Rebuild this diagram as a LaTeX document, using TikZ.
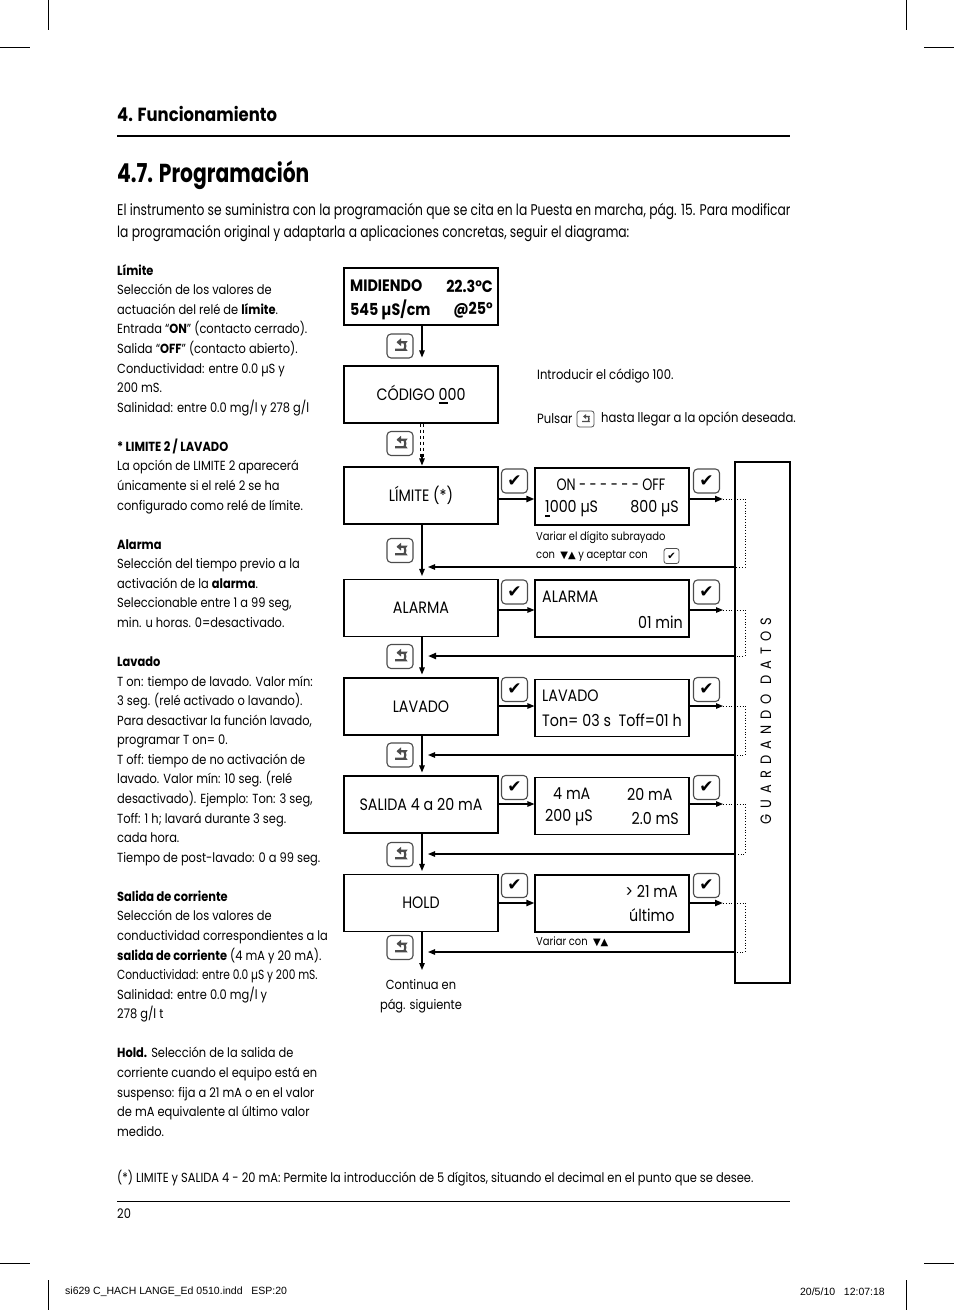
\documentclass[tikz,border=0pt]{standalone}
\usepackage{fontspec}
\setmainfont{Poppins}[FakeStretch=0.866]
\newfontfamily\symf{DejaVu Sans}
\newfontfamily\footf{Liberation Sans}
\usetikzlibrary{arrows.meta,calc}
\newcommand\bodyf{\fontsize{13.2}{19.57}\selectfont}
\newcommand\notef{\fontsize{13.4}{19.57}\selectfont}
\newcommand\boxf{\fontsize{16.5}{20}\selectfont}
\newcommand\smallf{\fontsize{11.5}{14}\selectfont}
\newcommand\udig[1]{\setbox0\hbox{#1}\rlap{\rule[-4pt]{\wd0}{2.2pt}}#1}
\tikzset{
  box/.style={draw, line width=1.1pt, minimum width=154pt, minimum height=57pt, inner sep=0pt, font=\boxf},
  txt/.style={inner sep=0pt, font=\boxf},
  keyret/.style={draw=black!70, line width=1.1pt, rounded corners=4pt, minimum width=26pt, minimum height=24pt, inner sep=0pt,
    path picture={\draw[line width=2.2pt,-{Triangle[length=4.5pt,width=7.5pt]}]
      ($(path picture bounding box.center)+(-5pt,-3.8pt)$) -- ++(6.5pt,0pt) arc[start angle=-90,end angle=90,radius=3.8pt] -- ++(-5pt,0pt);}},
  keyrets/.style={draw=black!70, line width=0.8pt, rounded corners=2.5pt, minimum width=17pt, minimum height=16pt, inner sep=0pt,
    path picture={\draw[line width=1.4pt,-{Triangle[length=3pt,width=4.8pt]}]
      ($(path picture bounding box.center)+(-3.4pt,-2.5pt)$) -- ++(4.4pt,0pt) arc[start angle=-90,end angle=90,radius=2.5pt] -- ++(-3.4pt,0pt);}},
  keychk/.style={draw=black!70, line width=1.1pt, rounded corners=4pt, minimum width=26pt, minimum height=24pt, inner sep=0pt, font=\symf\fontsize{17}{17}\selectfont},
  keychks/.style={draw=black!70, line width=0.8pt, rounded corners=2.5pt, minimum width=15pt, minimum height=15pt, inner sep=0pt, font=\symf\fontsize{10}{10}\selectfont},
  flow/.style={line width=1.1pt, -{Triangle[length=7pt,width=5.5pt]}},
  flowb/.style={line width=2pt, -{Triangle[length=8pt,width=6pt]}},
  dots/.style={line width=0.8pt, dotted},
}
\begin{document}
\begin{tikzpicture}[x=1pt,y=1pt]
\useasboundingbox (0,0) rectangle (954,-1310);
% crop marks
\draw[line width=0.8pt] (48,0) -- (48,-30) (906,0) -- (906,-30) (0,-47) -- (30,-47) (924,-47) -- (954,-47);
\draw[line width=0.8pt] (48,-1280) -- (48,-1310) (906,-1280) -- (906,-1310) (0,-1263) -- (30,-1263) (924,-1263) -- (954,-1263);
% header
\node[anchor=west, inner sep=0pt, font=\fontsize{19}{22}\selectfont\bfseries] (hdr) at (117,-114) {4. Funcionamiento};
\draw[line width=1.2pt] (117,-136) -- (790,-136);
\node[anchor=west, inner sep=0pt, font=\fontsize{26}{30}\selectfont\bfseries] (ttl) at (117,-175) {\scalebox{0.9}[1]{4.7. Programación}};
\node[anchor=west, inner sep=0pt, font=\fontsize{15.5}{22}\selectfont] (intro1) at (117,-211) {\scalebox{0.915}[1]{El instrumento se suministra con la programación que se cita en la Puesta en marcha, pág. 15. Para modificar}};
\node[anchor=west, inner sep=0pt, font=\fontsize{15.5}{22}\selectfont] (intro2) at (117,-233) {\scalebox{0.915}[1]{la programación original y adaptarla a aplicaciones concretas, seguir el diagrama:}};
% left description
\node[anchor=north west, inner sep=0pt, align=left, font=\bodyf] (desc) at (117,-264) {%
\textbf{Límite}\\
Selección de los valores de\\
actuación del relé de \textbf{límite}.\\
Entrada “\textbf{ON}” (contacto cerrado).\\
Salida “\textbf{OFF}” (contacto abierto).\\
Conductividad: entre 0.0 µS y\\
200 mS.\\
Salinidad: entre 0.0 mg/l y 278 g/l\\[19.57pt]
\textbf{* LIMITE 2 / LAVADO}\\
La opción de LIMITE 2 aparecerá\\
únicamente si el relé 2 se ha\\
configurado como relé de límite.\\[19.57pt]
\textbf{Alarma}\\
Selección del tiempo previo a la\\
activación de la \textbf{alarma}.\\
Seleccionable entre 1 a 99 seg,\\
min. u horas. 0=desactivado.\\[19.57pt]
\textbf{Lavado}\\
T on: tiempo de lavado. Valor mín:\\
3 seg. (relé activado o lavando).\\
Para desactivar la función lavado,\\
programar T on= 0.\\
T off: tiempo de no activación de\\
lavado. Valor mín: 10 seg. (relé\\
desactivado). Ejemplo: Ton: 3 seg,\\
Toff: 1 h; lavará durante 3 seg.\\
cada hora.\\
Tiempo de post-lavado: 0 a 99 seg.\\[19.57pt]
\textbf{Salida de corriente}\\
Selección de los valores de\\
conductividad correspondientes a la\\
\textbf{salida de corriente} (4 mA y 20 mA).\\
\scalebox{0.93}[1]{Conductividad: entre 0.0 µS y 200 mS.}\\
Salinidad: entre 0.0 mg/l y\\
278 g/l t\\[19.57pt]
\textbf{Hold.} Selección de la salida de\\
corriente cuando el equipo está en\\
suspenso: fija a 21 mA o en el valor\\
de mA equivalente al último valor\\
medido.};
% ===== diagram =====
\node[box] (mid) at (421,-296.5) {};
\node[txt, anchor=west, font=\boxf\bfseries] (mid1) at (350,-286) {MIDIENDO};
\node[txt, anchor=east, font=\boxf\bfseries] (mid2) at (493,-286) {22.3°C};
\node[txt, anchor=west, font=\boxf\bfseries] (mid3) at (350,-310) {545 µS/cm};
\node[txt, anchor=east, font=\boxf\bfseries] (mid4) at (493,-310) {@25°};
\node[box] (cod) at (421,-394.5) {CÓDIGO \udig{0}00};
\node[box] (l1) at (421,-495.5) {LÍMITE (*)};
\node[box] (l2) at (421,-608) {ALARMA};
\node[box] (l3) at (421,-706.5) {LAVADO};
\node[box] (l4) at (421,-804.5) {SALIDA 4 a 20 mA};
\node[box] (l5) at (421,-903) {HOLD};
% right boxes
\node[box] (r1) at (612,-496.5) {};
\node[txt] (r1a) at (611,-485) {\scalebox{0.9}[1]{ON - - - - - - OFF}};
\node[txt, anchor=west] (r1b) at (545,-509) {\udig{1}000 µS};
\node[txt, anchor=east] (r1c) at (679,-509) {800 µS};
\node[box] (r2) at (612,-608.5) {};
\node[txt, anchor=west] (r2a) at (542,-597) {ALARMA};
\node[txt, anchor=east] (r2b) at (683,-622) {01 min};
\node[box] (r3) at (612,-708) {};
\node[txt, anchor=west] (r3a) at (542,-696) {LAVADO};
\node[txt, anchor=west] (r3b) at (542,-720) {Ton= 03 s\ \ Toff=01 h};
\node[box] (r4) at (612,-806) {};
\node[txt, anchor=west] (r4a) at (553,-794) {4 mA};
\node[txt, anchor=west] (r4b) at (627,-794) {20 mA};
\node[txt, anchor=west] (r4c) at (545,-818) {200 µS};
\node[txt, anchor=east] (r4d) at (679,-818) {2.0 mS};
\node[box] (r5) at (612,-903.5) {};
\node[txt, anchor=east] (r5a) at (678,-891) {> 21 mA};
\node[txt, anchor=west] (r5b) at (629,-915) {último};
% guardando datos
\node[draw, line width=1.1pt, minimum width=55pt, minimum height=521pt, inner sep=0pt] (gd) at (762.5,-722.5) {};
\node[rotate=90, inner sep=0pt, font=\fontsize{15}{18}\selectfont\addfontfeatures{LetterSpace=40}] (gdt) at (766,-721) {GUARDANDO DATOS};
% notes
\node[anchor=west, inner sep=0pt, font=\notef] (n1) at (537,-376) {Introducir el código 100.};
\node[anchor=west, inner sep=0pt, font=\notef] (n2) at (537,-419) {Pulsar};
\node[keyrets] (n2k) at (585.5,-419) {};
\node[anchor=west, inner sep=0pt, font=\notef] (n3) at (601,-419) {hasta llegar a la opción deseada.};
\node[anchor=west, inner sep=0pt, font=\smallf] (v1) at (536,-538) {Variar el dígito subrayado};
\node[anchor=west, inner sep=0pt, font=\smallf] (v2) at (536,-556) {con\ \ {\symf\fontsize{10}{12}\selectfont ▼▲}\ y aceptar con};
\node[keychks] (v2k) at (671.5,-556) {✔};
\node[anchor=west, inner sep=0pt, font=\smallf] (v3) at (536,-942) {Variar con\ \ {\symf\fontsize{10}{12}\selectfont ▼▲}};
% key icons (return)
\node[keyret] (k0) at (400,-346) {};
\node[keyret] (kc) at (400,-443.5) {};
\node[keyret] (k1) at (400,-550.5) {};
\node[keyret] (k2) at (400,-656.5) {};
\node[keyret] (k3) at (400,-755) {};
\node[keyret] (k4) at (400,-854.5) {};
\node[keyret] (k5) at (400,-947.5) {};
% check icons
\foreach \i/\y in {1/481,2/592,3/689.5,4/787.5,5/885.5}{
  \node[keychk] (ca\i) at (514.5,-\y) {✔};
  \node[keychk] (cb\i) at (706.5,-\y) {✔};
}
% vertical flow
\draw[flow, shorten >=8pt] ([xshift=1pt]mid.south) -- ([xshift=1pt]cod.north);
\draw[line width=0.9pt, dash pattern=on 3pt off 3pt, shorten >=7pt] ([xshift=-0.5pt]cod.south) -- ([xshift=-0.5pt]l1.north);
\draw[line width=0.9pt, dash pattern=on 3pt off 3pt, shorten >=7pt] ([xshift=2.5pt]cod.south) -- ([xshift=2.5pt]l1.north);
\draw[line width=1.1pt, -{Triangle[length=7pt,width=5.5pt]}, shorten >=1pt] ([xshift=1pt,yshift=-30pt]cod.south) -- ([xshift=1pt]l1.north);
\draw[flow, shorten >=3pt] ([xshift=1pt]l1.south) -- ([xshift=1pt]l2.north);
\draw[flow, shorten >=3pt] ([xshift=1pt]l2.south) -- ([xshift=1pt]l3.north);
\draw[flow, shorten >=3pt] ([xshift=1pt]l3.south) -- ([xshift=1pt]l4.north);
\draw[flow, shorten >=3pt] ([xshift=1pt]l4.south) -- ([xshift=1pt]l5.north);
\coordinate (cont) at (422,-970);
\draw[flow] ([xshift=1pt]l5.south) -- (cont);
\node[align=center, inner sep=0pt, font=\bodyf] (contt) at (421,-996) {Continua en\\pág. siguiente};
% horizontal rows
\foreach \i/\y/\yr/\st in {1/499/567/flowb,2/610/656/flow,3/706/755/flow,4/804/854/flow,5/903/952/flowb}{
  \coordinate (t\i) at (723,-\y);
  \coordinate (d\i) at (745,-\y);
  \coordinate (e\i) at (745,-\yr);
  \coordinate (g\i) at (gd.west |- e\i);
  \coordinate (b\i) at (428,-\yr);
  \draw[\st] (l\i.east |- t\i) -- (r\i.west |- t\i);
  \draw[\st] (r\i.east |- t\i) -- (t\i);
  \draw[dots] (t\i) -- (d\i) -- (e\i) -- (g\i);
}
\draw[flow] (g1) -- (b1);
\draw[flowb] (g2) -- (b2);
\draw[flow] (g3) -- (b3);
\draw[flow] (g4) -- (b4);
\draw[flow] (g5) -- (b5);
% footnote
\node[anchor=west, inner sep=0pt, font=\bodyf] (fn) at (117,-1178) {(*) LIMITE y SALIDA 4 - 20 mA: Permite la introducción de 5 dígitos, situando el decimal en el punto que se desee.};
\draw[line width=1pt] (117,-1201) -- (790,-1201);
\node[anchor=west, inner sep=0pt, font=\bodyf] (pg) at (117,-1214) {20};
\node[anchor=west, inner sep=0pt, font=\footf\fontsize{10.5}{12}\selectfont] (ft1) at (65,-1292) {si629 C\_HACH LANGE\_Ed 0510.indd\ \ \ ESP:20};
\node[anchor=east, inner sep=0pt, font=\footf\fontsize{10.5}{12}\selectfont] (ft2) at (885,-1292) {20/5/10\ \ \ 12:07:18};
\end{tikzpicture}
\end{document}
